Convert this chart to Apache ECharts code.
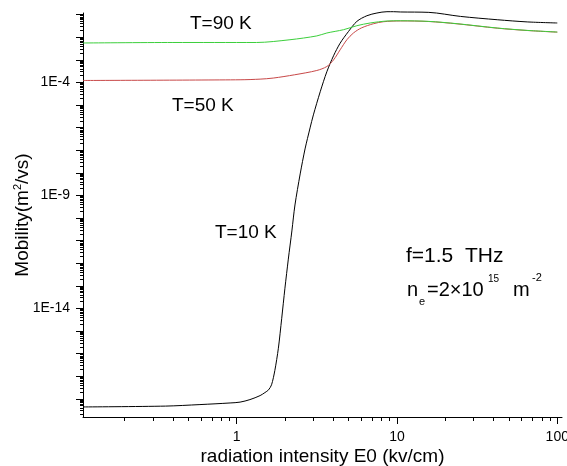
<!DOCTYPE html>
<html>
<head>
<meta charset="utf-8">
<script src="https://cdn.jsdelivr.net/npm/echarts@6/dist/echarts.min.js"></script>
<style>
html, body { margin: 0; padding: 0; background: #fff; }
#chart { width: 567px; height: 466px; }
</style>
</head>
<body>
<div id="chart"></div>
<script>
// field E0 (kv/cm) and mobility (m^2/vs)
const field10 = [0.11, 0.36, 0.59, 0.91, 1.05, 1.21, 1.40, 1.50, 1.58, 1.65, 1.73, 1.82, 1.91, 2.00, 2.10, 2.21, 2.31, 2.49, 2.67, 2.87, 3.01, 3.32, 3.65, 4.02, 4.42, 4.98, 5.62, 6.49, 7.50, 8.66, 9.52, 10.5, 15.8, 24.9, 42.2, 64.9, 100]
const mob10 = [4.4e-19, 4.8e-19, 5.6e-19, 6.6e-19, 7.2e-19, 9.3e-19, 1.4e-18, 1.9e-18, 2.5e-18, 4.2e-18, 1.8e-17, 1.74e-16, 3.7e-15, 7.9e-14, 1.53e-12, 2.7e-11, 3.8e-10, 9.0e-9, 1.15e-7, 9.8e-7, 3.7e-6, 3.9e-5, 2.98e-4, 1.52e-3, 5.5e-3, 0.018, 0.0506, 0.090, 0.119, 0.136, 0.136, 0.132, 0.127, 0.084, 0.060, 0.048, 0.043]

const field50 = [0.11, 1.05, 1.40, 1.69, 2.30, 3.16, 3.65, 4.02, 4.42, 4.87, 5.35, 6.0, 7.14, 8.25, 10.5, 15.8, 23.7, 42.2, 64.9, 100]
const mob50 = [1.23e-4, 1.32e-4, 1.41e-4, 1.57e-4, 2.2e-4, 3.4e-4, 5.1e-4, 1.0e-3, 2.8e-3, 7.8e-3, 0.0155, 0.026, 0.040, 0.049, 0.053, 0.050, 0.0395, 0.0254, 0.020, 0.0169]

const field90 = [0.11, 0.40, 1.33, 2.15, 3.16, 3.65, 4.64, 5.62, 6.8, 8.66, 10.5, 15.8, 23.7, 42.2, 64.9, 100]
const mob90 = [5.6e-3, 5.9e-3, 5.9e-3, 7.8e-3, 0.0115, 0.0155, 0.0217, 0.0326, 0.043, 0.0526, 0.054, 0.0506, 0.040, 0.0257, 0.0202, 0.0171]

const xLabels = [1, 10, 100]
const yLabels = [1e-14, 1e-9, 1e-4]

const xMin = 0.11
const xMax = 107
const yMin = 1.58e-19
const yMax = 0.119

function pairs(xs, ys) {
  return xs.map((x, i) => [x, ys[i]])
}

// decade ticks and the 2..9 ticks between them
function decades(lo, hi) {
  const out = []
  for (let p = lo; p <= hi; p++) out.push(Number('1e' + p))
  return out
}
function minors(lo, hi) {
  const out = []
  for (let p = lo; p <= hi; p++) {
    for (let k = 2; k <= 9; k++) out.push(Number(k + 'e' + p))
  }
  return out
}

const font = '"Liberation Sans", Arial, sans-serif'
const chart = echarts.init(document.getElementById('chart'))

const baseX = {
  type: 'log',
  min: xMin,
  max: xMax,
  splitLine: { show: false },
  axisLine: { lineStyle: { color: '#000', width: 1 } }
}
const baseY = {
  type: 'log',
  min: yMin,
  max: yMax,
  splitLine: { show: false },
  axisLine: { lineStyle: { color: '#000', width: 1 } }
}

chart.setOption({
  animation: false,
  backgroundColor: '#fff',
  grid: { left: 83, right: 5, top: 13, bottom: 49, containLabel: false, outerBoundsMode: 'none' },
  xAxis: [
    Object.assign({}, baseX, {
      name: 'radiation intensity E0 (kv/cm)',
      nameLocation: 'middle',
      nameGap: 30,
      nameMoveOverlap: false,
      nameTextStyle: { color: '#000', fontSize: 19, fontFamily: font },
      axisTick: { length: 7, lineStyle: { color: '#000' }, customValues: decades(0, 2) },
      axisLabel: {
        color: '#000', fontSize: 14, fontFamily: font, margin: 13,
        customValues: xLabels,
        formatter: v => String(Math.round(v))
      }
    }),
    Object.assign({}, baseX, {
      position: 'bottom',
      axisLine: { show: false },
      axisTick: { length: 4, lineStyle: { color: '#000' }, customValues: minors(-1, 1) },
      axisLabel: { show: false }
    })
  ],
  yAxis: [
    Object.assign({}, baseY, {
      name: 'Mobility(m{sup|2}/vs)',
      nameLocation: 'middle',
      nameGap: 50,
      nameRotate: 90,
      nameMoveOverlap: false,
      nameTextStyle: {
        color: '#000', fontSize: 19, fontFamily: font,
        rich: { sup: { fontSize: 11, fontFamily: font, color: '#000', verticalAlign: 'top', padding: [0, 0, 10, 0] } }
      },
      axisTick: { length: 7, lineStyle: { color: '#000' }, customValues: decades(-18, -1) },
      axisLabel: {
        color: '#000', fontSize: 14, fontFamily: font, margin: 13,
        customValues: yLabels,
        formatter: v => '1E' + Math.round(Math.log10(v))
      }
    }),
    Object.assign({}, baseY, {
      position: 'left',
      axisLine: { show: false },
      axisTick: { length: 3, lineStyle: { color: '#000' }, customValues: minors(-19, -1) },
      axisLabel: { show: false }
    })
  ],
  series: [
    {
      name: 'T=10 K',
      type: 'line',
      data: pairs(field10, mob10),
      showSymbol: false,
      smooth: 0.3,
      clip: false,
      lineStyle: { color: '#000', width: 1 }
    },
    {
      name: 'T=50 K',
      type: 'line',
      data: pairs(field50, mob50),
      showSymbol: false,
      smooth: 0.3,
      clip: false,
      lineStyle: { color: '#c84848', width: 1 }
    },
    {
      name: 'T=90 K',
      type: 'line',
      data: pairs(field90, mob90),
      showSymbol: false,
      smooth: 0.3,
      clip: false,
      lineStyle: { color: '#3ccf3c', width: 1 }
    }
  ],
  graphic: [
    { type: 'text', left: 190, top: 14, style: { text: 'T=90 K', font: '19px ' + font, fill: '#000' } },
    { type: 'text', left: 172, top: 96, style: { text: 'T=50 K', font: '19px ' + font, fill: '#000' } },
    { type: 'text', left: 215, top: 223, style: { text: 'T=10 K', font: '19px ' + font, fill: '#000' } },
    { type: 'text', left: 406, top: 246, style: { text: 'f=1.5  THz', font: '21px ' + font, fill: '#000' } },
    { type: 'text', left: 407, top: 280, style: { text: 'n', font: '20px ' + font, fill: '#000' } },
    { type: 'text', left: 419, top: 296, style: { text: 'e', font: '11px ' + font, fill: '#000' } },
    { type: 'text', left: 427, top: 280, style: { text: '=2×10', font: '20px ' + font, fill: '#000' } },
    { type: 'text', left: 488, top: 274, style: { text: '15', font: '10px ' + font, fill: '#000' } },
    { type: 'text', left: 513, top: 280, style: { text: 'm', font: '20px ' + font, fill: '#000' } },
    { type: 'text', left: 532, top: 272, style: { text: '-2', font: '11px ' + font, fill: '#000' } }
  ]
})
</script>
</body>
</html>
